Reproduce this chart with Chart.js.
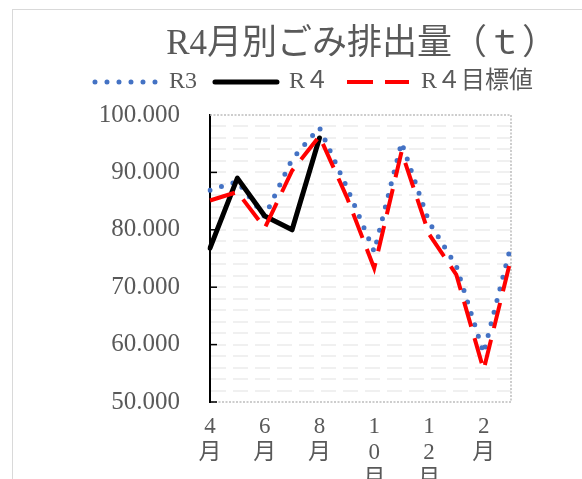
<!DOCTYPE html>
<html lang="ja">
<head>
  <meta charset="UTF-8">
  <title>R4月別ごみ排出量</title>
  <script src="https://cdn.jsdelivr.net/npm/chart.js"></script>
  <style>
    body {
      margin: 0;
      background: #fff;
      overflow: hidden;
    }
    #frame {
      position: absolute;
      left: 12px;
      top: 9px;
      width: 800px;
      height: 800px;
      border: 1px solid #d9d9d9;
    }
    #garbageChart {
      position: absolute;
      left: 0;
      top: 0;
    }
  </style>
</head>
<body>
  <div id="frame"></div>
  <canvas id="garbageChart" width="582" height="520"></canvas>

  <script>
    // 月（4月〜3月）
    const months = ['4月', '5月', '6月', '7月', '8月', '9月', '10月', '11月', '12月', '1月', '2月', '3月'];
    // 排出量（t）
    const r3 = [86.9, 88.4, 82.3, 92.3, 97.8, 87.4, 76.2, 95.2, 81.4, 73.7, 58.5, 77.3];
    const r4 = [76.8, 89.0, 82.4, 80.0, 96.0, null, null, null, null, null, null, null];
    const r4Target = [85.1, 86.6, 80.3, 90.3, 96.3, 85.7, 73.3, 93.6, 79.3, 72.2, 55.6, 75.0];
    // 縦軸
    const yMin = 50;
    const yMax = 100;
    const yStep = 2;
    const yLabelStep = 10;

    const textColor = '#595959';
    const serif = "'Liberation Serif', 'Noto Sans CJK JP', serif";

    // プロットエリアの点線枠と内向きの目盛
    const plotFrame = {
      id: 'plotFrame',
      beforeDatasetsDraw(chart) {
        const { ctx, chartArea: a, scales: { y } } = chart;
        ctx.save();
        ctx.strokeStyle = '#bdbdbd';
        ctx.lineWidth = 1.5;
        ctx.setLineDash([2, 1.5]);
        ctx.beginPath();
        ctx.moveTo(a.left, a.top);
        ctx.lineTo(a.right, a.top);
        ctx.lineTo(a.right, a.bottom);
        ctx.lineTo(a.left, a.bottom);
        ctx.stroke();

        ctx.setLineDash([]);
        ctx.strokeStyle = '#000';
        ctx.lineWidth = 1.5;
        y.ticks.forEach(t => {
          if (t.value % yLabelStep === 0 && t.value !== yMax) {
            const py = y.getPixelForValue(t.value);
            ctx.beginPath();
            ctx.moveTo(a.left, py);
            ctx.lineTo(a.left + 7, py);
            ctx.stroke();
          }
        });
        ctx.restore();
      }
    };

    const datasets = [
      {
        label: 'R3',
        data: r3,
        borderColor: '#4472C4',
        borderWidth: 5,
        borderDash: [0, 12],
        borderCapStyle: 'round',
        order: 3,
      },
      {
        label: 'R４',
        data: r4,
        borderColor: '#000000',
        borderWidth: 5,
        borderCapStyle: 'round',
        borderJoinStyle: 'round',
        order: 2,
      },
      {
        label: 'R４目標値',
        data: r4Target,
        borderColor: '#FF0000',
        borderWidth: 4,
        borderDash: [26, 12],
        order: 1,
      },
    ];

    new Chart(document.getElementById('garbageChart'), {
      type: 'line',
      data: { labels: months, datasets: datasets },
      options: {
        responsive: false,
        animation: false,
        devicePixelRatio: 1,
        layout: { padding: { left: 71, right: 25, top: 0, bottom: 0 } },
        elements: {
          point: { radius: 0, hoverRadius: 0 },
          line: { tension: 0, fill: false },
        },
        plugins: {
          tooltip: { enabled: false },
          title: {
            display: true,
            text: 'R4月別ごみ排出量（ｔ）',
            align: 'end',
            color: textColor,
            font: { family: serif, size: 35, weight: 'normal', lineHeight: 1 },
            padding: { top: 27.5, bottom: -10.5 },
          },
          legend: {
            display: true,
            position: 'top',
            labels: {
              usePointStyle: true,
              pointStyleWidth: 62,
              padding: 18,
              color: textColor,
              font: { family: serif, size: 24 },
              generateLabels: chart => chart.data.datasets.map((ds, i) => ({
                text: ds.label,
                datasetIndex: i,
                hidden: false,
                fillStyle: 'transparent',
                strokeStyle: ds.borderColor,
                lineWidth: ds.borderWidth,
                lineDash: ds.borderDash || [],
                lineCap: ds.borderCapStyle || 'butt',
                pointStyle: 'line',
                fontColor: textColor,
              })),
            },
          },
        },
        scales: {
          x: {
            type: 'category',
            offset: false,
            grid: { display: false, drawTicks: false },
            border: { display: false },
            ticks: {
              autoSkip: false,
              maxRotation: 0,
              minRotation: 0,
              padding: 12,
              color: textColor,
              font: { family: serif, size: 23, lineHeight: 1.13 },
              callback: function (value, index) {
                return index % 2 === 0 ? Array.from(this.getLabelForValue(value)) : '';
              },
            },
            afterFit: s => { s.height = 118; },
          },
          xTop: {
            type: 'linear',
            position: 'top',
            grid: { display: false, drawTicks: false },
            border: { display: false },
            ticks: { display: false },
            afterFit: s => { s.height = 11; },
          },
          y: {
            min: yMin,
            max: yMax,
            grid: {
              drawTicks: false,
              lineWidth: 2,
              color: c => (c.tick && (c.tick.value === yMin || c.tick.value === yMax)) ? 'rgba(0,0,0,0)' : '#f0f0f0',
            },
            border: { display: true, color: '#000', width: 2, dash: [15, 7] },
            ticks: {
              stepSize: yStep,
              autoSkip: false,
              padding: 30,
              color: textColor,
              font: { family: serif, size: 25 },
              callback: v => (v % yLabelStep === 0 ? v.toFixed(3) : ''),
            },
            afterFit: s => { s.width = 139; },
          },
          yRight: {
            type: 'linear',
            position: 'right',
            grid: { display: false, drawTicks: false },
            border: { display: false },
            ticks: { display: false },
            afterFit: s => { s.width = 46; },
          },
        },
      },
      plugins: [plotFrame],
    });
  </script>
</body>
</html>
